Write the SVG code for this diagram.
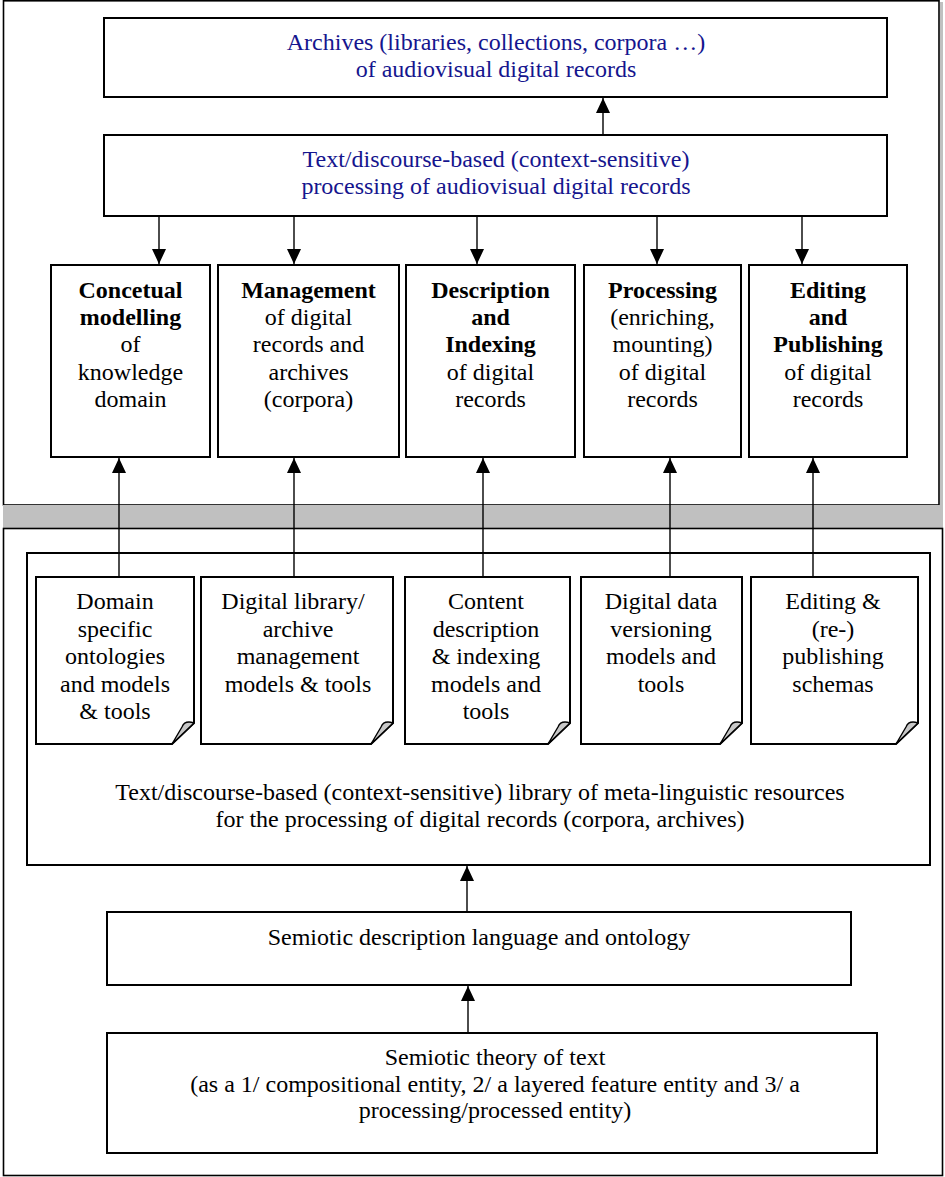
<svg xmlns="http://www.w3.org/2000/svg" width="945" height="1177" viewBox="0 0 945 1177">
<style>
  .box{fill:#fff;stroke:#000;stroke-width:2}
  .frame{fill:#fff;stroke:#000;stroke-width:1.6}
  .t{font-family:"Liberation Serif","Times New Roman",serif;font-size:24px;fill:#000;text-anchor:middle}
  .b{font-weight:bold}
  .blue{fill:#15158e}
  .conn{stroke:#000;stroke-width:1.4;fill:none;marker-end:url(#ah)}
  .flap{fill:#c8c8c8;stroke:#000;stroke-width:1.4;stroke-linejoin:round}
</style>
<defs>
  <marker id="ah" viewBox="0 0 15 14" refX="15" refY="7" markerWidth="15" markerHeight="14" markerUnits="userSpaceOnUse" orient="auto">
    <path d="M0,0 L15,7 L0,14 Z" fill="#000"/>
  </marker>
</defs>
<rect width="945" height="1177" fill="#fff"/>

<g id="top-frame">
  <rect x="940" y="2" width="3" height="503" fill="#c0c0c0"/>
  <rect class="frame" x="3.5" y="0.8" width="935.5" height="504.2"/>
</g>
<g id="separator">
  <rect x="3" y="505" width="940" height="23" fill="#c0c0c0"/>
</g>
<g id="bottom-frame">
  <rect class="frame" x="3.5" y="528.5" width="939" height="647"/>
</g>

<g id="archives">
  <rect class="box" x="104" y="18" width="783" height="79"/>
  <text class="t blue" x="496" y="50">Archives (libraries, collections, corpora …)</text>
  <text class="t blue" x="496" y="77">of audiovisual digital records</text>
</g>
<g id="processing-top">
  <rect class="box" x="104" y="135" width="783" height="81"/>
  <text class="t blue" x="496" y="167">Text/discourse-based (context-sensitive)</text>
  <text class="t blue" x="496" y="194">processing of audiovisual digital records</text>
</g>

<g id="col-conceptual">
  <rect class="box" x="51" y="265" width="159" height="192"/>
  <text class="t b" x="130.5" y="298">Concetual</text>
  <text class="t b" x="130.5" y="325">modelling</text>
  <text class="t" x="130.5" y="352">of</text>
  <text class="t" x="130.5" y="380">knowledge</text>
  <text class="t" x="130.5" y="407">domain</text>
</g>
<g id="col-management">
  <rect class="box" x="218" y="265" width="181" height="192"/>
  <text class="t b" x="308.5" y="298">Management</text>
  <text class="t" x="308.5" y="325">of digital</text>
  <text class="t" x="308.5" y="352">records and</text>
  <text class="t" x="308.5" y="380">archives</text>
  <text class="t" x="308.5" y="407">(corpora)</text>
</g>
<g id="col-description">
  <rect class="box" x="406" y="265" width="169" height="192"/>
  <text class="t b" x="490.5" y="298">Description</text>
  <text class="t b" x="490.5" y="325">and</text>
  <text class="t b" x="490.5" y="352">Indexing</text>
  <text class="t" x="490.5" y="380">of digital</text>
  <text class="t" x="490.5" y="407">records</text>
</g>
<g id="col-processing">
  <rect class="box" x="584" y="265" width="157" height="192"/>
  <text class="t b" x="662.5" y="298">Processing</text>
  <text class="t" x="662.5" y="325">(enriching,</text>
  <text class="t" x="662.5" y="352">mounting)</text>
  <text class="t" x="662.5" y="380">of digital</text>
  <text class="t" x="662.5" y="407">records</text>
</g>
<g id="col-editing">
  <rect class="box" x="749" y="265" width="158" height="192"/>
  <text class="t b" x="828" y="298">Editing</text>
  <text class="t b" x="828" y="325">and</text>
  <text class="t b" x="828" y="352">Publishing</text>
  <text class="t" x="828" y="380">of digital</text>
  <text class="t" x="828" y="407">records</text>
</g>

<g id="library">
  <rect class="box" x="27" y="553" width="903" height="312"/>
  <text class="t" x="480" y="800">Text/discourse-based (context-sensitive) library of meta-linguistic resources</text>
  <text class="t" x="480" y="827">for the processing of digital records (corpora, archives)</text>
</g>

<g id="doc-domain">
  <path class="box" d="M36,577 H194 V723 L172,744 H36 Z"/>
  <path class="flap" d="M194,723 C188,721 184,722 182,727 L172,744 Z"/>
  <text class="t" x="115" y="609">Domain</text>
  <text class="t" x="115" y="637">specific</text>
  <text class="t" x="115" y="664">ontologies</text>
  <text class="t" x="115" y="692">and models</text>
  <text class="t" x="115" y="719">&amp; tools</text>
</g>
<g id="doc-library">
  <path class="box" d="M201,577 H393 V723 L371,744 H201 Z"/>
  <path class="flap" d="M393,723 C387,721 383,722 381,727 L371,744 Z"/>
  <text class="t" x="293" y="609">Digital library/</text>
  <text class="t" x="298" y="637">archive</text>
  <text class="t" x="298" y="664">management</text>
  <text class="t" x="298" y="692">models &amp; tools</text>
</g>
<g id="doc-content">
  <path class="box" d="M405,577 H570 V723 L548,744 H405 Z"/>
  <path class="flap" d="M570,723 C564,721 560,722 558,727 L548,744 Z"/>
  <text class="t" x="486" y="609">Content</text>
  <text class="t" x="486" y="637">description</text>
  <text class="t" x="486" y="664">&amp; indexing</text>
  <text class="t" x="486" y="692">models and</text>
  <text class="t" x="486" y="719">tools</text>
</g>
<g id="doc-versioning">
  <path class="box" d="M581,577 H742 V723 L720,744 H581 Z"/>
  <path class="flap" d="M742,723 C736,721 732,722 730,727 L720,744 Z"/>
  <text class="t" x="661" y="609">Digital data</text>
  <text class="t" x="661" y="637">versioning</text>
  <text class="t" x="661" y="664">models and</text>
  <text class="t" x="661" y="692">tools</text>
</g>
<g id="doc-editing">
  <path class="box" d="M751,577 H918 V723 L896,744 H751 Z"/>
  <path class="flap" d="M918,723 C912,721 908,722 906,727 L896,744 Z"/>
  <text class="t" x="833" y="609">Editing &amp;</text>
  <text class="t" x="833" y="637">(re-)</text>
  <text class="t" x="833" y="664">publishing</text>
  <text class="t" x="833" y="692">schemas</text>
</g>

<g id="semiotic-language">
  <rect class="box" x="107" y="912" width="744" height="73"/>
  <text class="t" x="479" y="945">Semiotic description language and ontology</text>
</g>
<g id="semiotic-theory">
  <rect class="box" x="107" y="1033" width="770" height="120"/>
  <text class="t" x="495" y="1065">Semiotic theory of text</text>
  <text class="t" x="495" y="1092">(as a 1/ compositional entity, 2/ a layered feature entity and 3/ a</text>
  <text class="t" x="495" y="1118">processing/processed entity)</text>
</g>

<g id="connectors">
  <line class="conn" x1="603" y1="135" x2="603" y2="98"/>
  <line class="conn" x1="159" y1="216" x2="159" y2="264"/>
  <line class="conn" x1="294" y1="216" x2="294" y2="264"/>
  <line class="conn" x1="477" y1="216" x2="477" y2="264"/>
  <line class="conn" x1="657" y1="216" x2="657" y2="264"/>
  <line class="conn" x1="802" y1="216" x2="802" y2="264"/>
  <line class="conn" x1="119" y1="577" x2="119" y2="458"/>
  <line class="conn" x1="294" y1="577" x2="294" y2="458"/>
  <line class="conn" x1="483" y1="577" x2="483" y2="458"/>
  <line class="conn" x1="670" y1="577" x2="670" y2="458"/>
  <line class="conn" x1="813" y1="577" x2="813" y2="458"/>
  <line class="conn" x1="467" y1="912" x2="467" y2="866"/>
  <line class="conn" x1="468" y1="1033" x2="468" y2="986"/>
</g>
</svg>
